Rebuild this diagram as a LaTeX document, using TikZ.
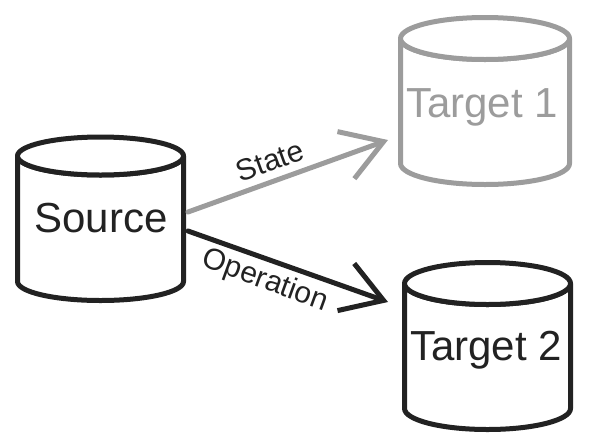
\documentclass[tikz,border=0pt]{standalone}
\usepackage{fontspec}
\setmainfont{Liberation Sans}
\usetikzlibrary{arrows.meta}
\definecolor{ink}{HTML}{222222}
\definecolor{faded}{HTML}{9C9C9C}
\begin{document}
\begin{tikzpicture}[x=1pt,y=-1pt,
  cylline/.style={line width=5pt, line join=round, line cap=round, fill=white},
  dbtext/.style={inner sep=0pt, anchor=base, font=\fontsize{42}{48}\selectfont},
  lbl/.style={inner sep=0pt, font=\fontsize{30}{36}\selectfont},
  conn/.style={line width=5pt, line cap=round, line join=round,
    -{Straight Barb[length=40pt,width=50pt,line width=5pt]}}]
\useasboundingbox (0,0) rectangle (599,445);
% Source cylinder
\draw[cylline, draw=ink] (17.5,156) -- (17.5,281.5) arc[start angle=180,end angle=0,x radius=83,y radius=19] -- (183.5,156) arc[start angle=0,end angle=180,x radius=83,y radius=19] -- cycle;
\draw[cylline, draw=ink] (100.5,156) ellipse[x radius=83,y radius=19];
% Target 1 cylinder
\draw[cylline, draw=faded] (400.5,38.5) -- (400.5,163.5) arc[start angle=180,end angle=0,x radius=84.5,y radius=21] -- (569.5,38.5) arc[start angle=0,end angle=180,x radius=84.5,y radius=21] -- cycle;
\draw[cylline, draw=faded] (485,38.5) ellipse[x radius=84.5,y radius=21];
% Target 2 cylinder
\draw[cylline, draw=ink] (404.5,283.5) -- (404.5,408.5) arc[start angle=180,end angle=0,x radius=83,y radius=21] -- (570.5,283.5) arc[start angle=0,end angle=180,x radius=83,y radius=21] -- cycle;
\draw[cylline, draw=ink] (487.5,283.5) ellipse[x radius=83,y radius=21];
% text nodes
\node[dbtext, text=ink] (src) at (101,232) {Source};
\node[dbtext, text=faded] (t1) at (482,117) {Target 1};
\node[dbtext, text=ink] (t2) at (486,360) {Target 2};
% connector ends
\coordinate (s1) at (188,212);
\coordinate (s2) at (188,231);
\coordinate (e1) at (388,140);
\coordinate (e2) at (388,302);
\draw[conn, draw=faded] (s1) -- (e1);
\draw[conn, draw=ink] (s2) -- (e2);
\node[lbl, text=ink, rotate=20] (lstate) at (270,161) {State};
\node[lbl, text=ink, rotate=-20] (lop) at (265,281) {Operation};
\end{tikzpicture}
\end{document}
